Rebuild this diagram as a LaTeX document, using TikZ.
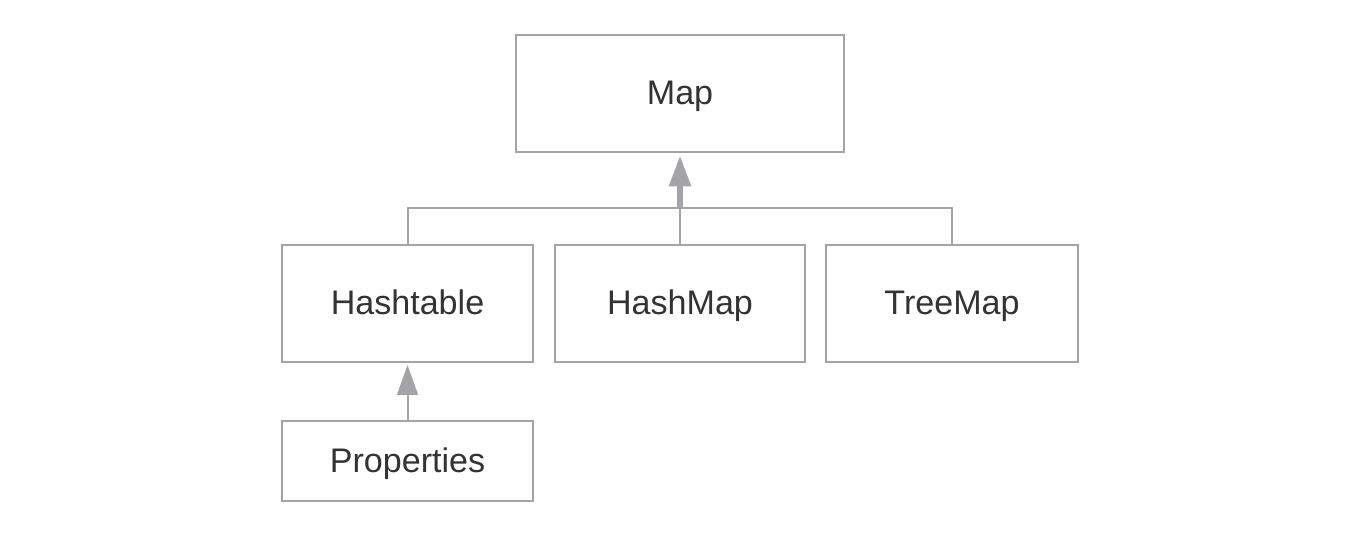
\documentclass[tikz,border=0pt]{standalone}
\usepackage{fontspec}
\setmainfont{Liberation Sans}
\usetikzlibrary{arrows.meta}
\definecolor{linegray}{HTML}{A4A4A8}
\definecolor{textgray}{HTML}{333333}
\tikzset{
  classbox/.style={draw=linegray, line width=0.04cm, minimum height=2.34cm,
    text=textgray, font=\fontsize{19.4}{22}\selectfont, inner sep=0pt,
    text height=0.5cm, text depth=0.04cm},
  conn/.style={draw=linegray, line width=0.04cm},
  inherit/.style={conn, -{Triangle[width=0.42cm, length=0.6cm]}},
  biginherit/.style={draw=linegray, line width=0.12cm, -{Triangle[width=0.42cm, length=0.62cm]}}
}
\begin{document}
\begin{tikzpicture}[x=0.02cm, y=-0.02cm]
      \useasboundingbox (0,0) rectangle (1354,533);
      \node[classbox, minimum width=6.56cm] (map) at (680,93.5) {Map};
      \node[classbox, minimum width=5.02cm] (hashtable) at (407.5,303.5) {Hashtable};
      \node[classbox, minimum width=5cm] (hashmap) at (680,303.5) {HashMap};
      \node[classbox, minimum width=5.04cm] (treemap) at (952,303.5) {TreeMap};
      \node[classbox, minimum width=5.02cm, minimum height=1.6cm] (properties) at (407.5,461) {Properties};
      \coordinate (bus) at (680,208);
      \draw[conn] (hashtable.north) |- (bus) -| (treemap.north);
      \draw[conn] (hashmap.north) -- (bus);
      \draw[biginherit] (bus) -- ([yshift=-0.05cm]map.south);
      \draw[inherit] (properties.north) -- ([yshift=-0.04cm]hashtable.south);
    \end{tikzpicture}
\end{document}
